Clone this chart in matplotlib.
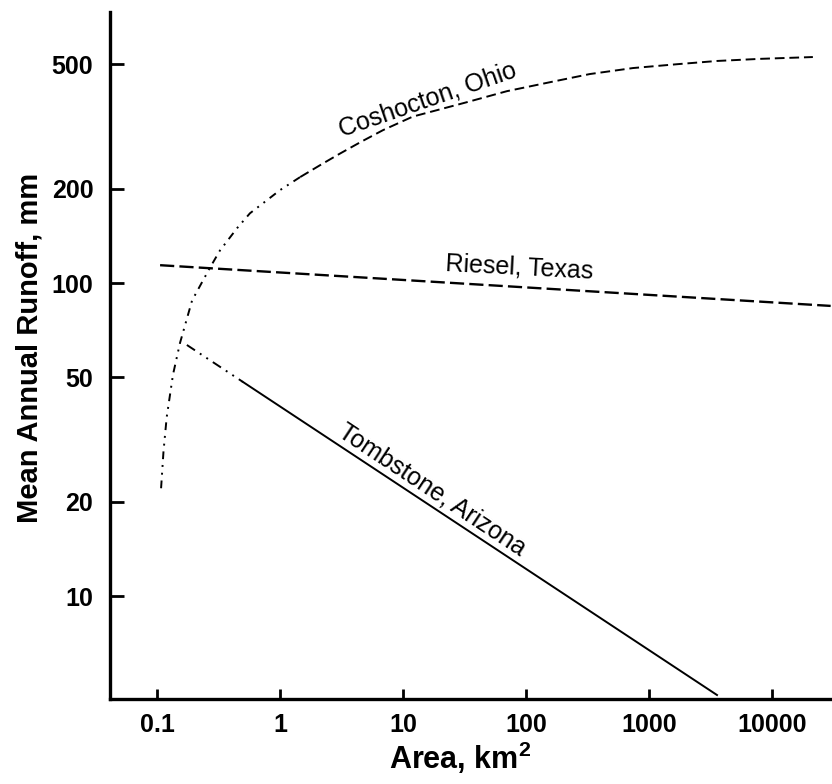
import numpy as np
import matplotlib
matplotlib.use('Agg')
import matplotlib.pyplot as plt

plt.rcParams['font.family'] = ['Liberation Sans', 'DejaVu Sans']
plt.rcParams['mathtext.fontset'] = 'custom'
plt.rcParams['mathtext.rm'] = 'Liberation Sans:bold'
plt.rcParams['mathtext.it'] = 'Liberation Sans:bold'

# values (area km2, runoff mm)
cosh_area_low = [0.108, 0.113, 0.12, 0.135, 0.154, 0.193, 0.27, 0.325, 0.45, 0.57, 0.8, 1.0, 1.46]
cosh_run_low = [22.1, 29, 37.3, 51, 64.4, 88, 112, 127, 150, 167, 185, 198, 218]
cosh_area_high = [1.46, 2.2, 3.07, 4.6, 6.9, 12, 33, 70, 157, 330, 741, 1700, 3573, 8000, 21500]
cosh_run_high = [218, 240, 259, 283, 308, 340, 378, 410, 438, 465, 486, 500, 512, 520, 527]

riesel_area = [0.106, 30000]
riesel_run = [114, 84.5]

tomb_area_start = [0.175, 0.5]
tomb_run_start = [63.4, 48.3]
tomb_area = [0.5, 3573]
tomb_run = [48.3, 4.83]

xticks = [0.1, 1, 10, 100, 1000, 10000]
xlabels = ['0.1', '1', '10', '100', '1000', '10000']
yticks = [10, 20, 50, 100, 200, 500]
ylabels = ['10', '20', '50', '100', '200', '500']

fig = plt.figure(figsize=(8.32, 7.84), dpi=100)
ax = fig.add_axes([0.1322, 0.1084, 0.8678, 0.8763])

lw = 1.4
ax.plot(cosh_area_low, cosh_run_low, color='black', lw=lw, linestyle=(0, (4, 3, 1, 3, 1, 3)))
ax.plot(cosh_area_high, cosh_run_high, color='black', lw=lw, linestyle=(0, (5, 2.5)))
ax.plot(riesel_area, riesel_run, color='black', lw=lw + 0.3, linestyle=(0, (6, 2.2)))
ax.plot(tomb_area_start, tomb_run_start, color='black', lw=lw, linestyle=(0, (5, 3, 1, 3, 1, 3)))
ax.plot(tomb_area, tomb_run, color='black', lw=lw)

ax.set_xscale('log')
ax.set_yscale('log')
ax.set_xlim(0.0415, 30760)
ax.set_ylim(4.69, 734)

ax.xaxis.set_minor_locator(matplotlib.ticker.NullLocator())
ax.yaxis.set_minor_locator(matplotlib.ticker.NullLocator())
ax.set_xticks(xticks, xlabels, fontsize=18, fontweight='bold')
ax.set_yticks(yticks, ylabels, fontsize=18, fontweight='bold')
ax.tick_params(axis='y', direction='in', length=10, width=2, pad=12)
ax.tick_params(axis='x', direction='in', length=7, width=2, pad=10)

for s in ['top', 'right']:
    ax.spines[s].set_visible(False)
for s in ['left', 'bottom']:
    ax.spines[s].set_linewidth(2.4)

ax.set_ylabel('Mean Annual Runoff, mm', fontsize=21, fontweight='bold', va='center')
ax.yaxis.set_label_coords(-0.112, 0.511)
ax.set_xlabel(r'Area, km$^{2}$', fontsize=22, fontweight='bold', va='center')
ax.xaxis.set_label_coords(0.485, -0.086)

ax.text(16, 385, 'Coshocton, Ohio', fontsize=18, rotation=19, ha='center', va='center', rotation_mode='anchor')
ax.text(89, 112, 'Riesel, Texas', fontsize=18, rotation=-3, ha='center', va='center', rotation_mode='anchor')
ax.text(17.2, 21.8, 'Tombstone, Arizona', fontsize=18, rotation=-33.5, ha='center', va='center', rotation_mode='anchor')

fig.savefig('out.png', dpi=100)
